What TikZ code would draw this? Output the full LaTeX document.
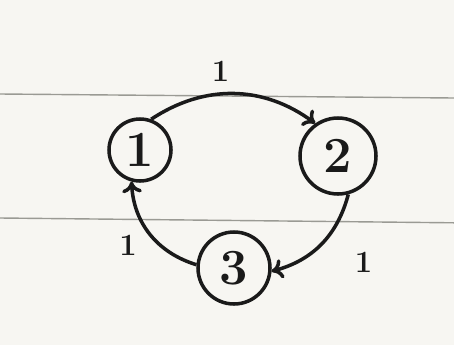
\documentclass[tikz,border=0pt]{standalone}
\usepackage{tikz}
\usetikzlibrary{arrows.meta,positioning}
\definecolor{paper}{HTML}{F7F6F2}
\definecolor{rule}{HTML}{9A9A94}
\definecolor{ink}{HTML}{1A1A1A}

\begin{document}
\begin{tikzpicture}[
    vertex/.style={circle, draw=ink, line width=2.5pt, inner sep=0pt,
      font=\fontsize{36}{36}\selectfont\bfseries, text=ink},
    wlabel/.style={font=\fontsize{22}{22}\selectfont\bfseries, text=ink},
    edge/.style={-{To[length=8pt,width=14pt]}, line width=2.5pt, draw=ink}
  ]
      % paper and its ruled lines
      \fill[paper] (0,0) rectangle (11.35,-8.625);
      \useasboundingbox (0,0) rectangle (11.35,-8.625);
      \draw[rule, line width=1pt] (0,-2.35) -- (11.35,-2.45);
      \draw[rule, line width=1pt] (0,-5.45) -- (11.35,-5.57);

      \node[vertex, minimum size=1.55cm] (one) at (3.5,-3.75) {1};
      \node[vertex, minimum size=1.9cm] (two) at (8.45,-3.9) {2};
      \node[vertex, minimum size=1.8cm] (three) at (5.85,-6.7) {3};

      \draw[edge] (one.70) to[bend left=35] node[wlabel, pos=0.42, above=0.15cm] {1} (two.125);
      \draw[edge] (two.-75) to[bend left=30] node[wlabel, pos=0.78, right=1.3cm] {1} (three.-5);
      \draw[edge] (three.175) to[bend left=35] node[wlabel, pos=0.35, left=0.45cm] {1} (one.-105);
    \end{tikzpicture}
\end{document}
